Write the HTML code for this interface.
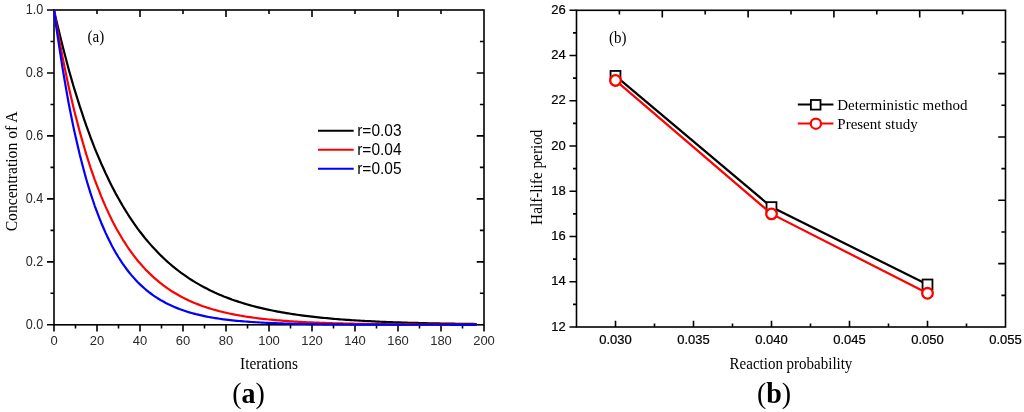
<!DOCTYPE html>
<html><head><meta charset="utf-8"><title>Figure</title>
<style>
html,body{margin:0;padding:0;background:#fff;width:1024px;height:412px;overflow:hidden}
svg{display:block;will-change:transform}
text{fill:#000}
.sans{font-family:"Liberation Sans",sans-serif}
.serif{font-family:"Liberation Serif",serif}
</style>
</head><body>
<svg width="1024" height="412" viewBox="0 0 1024 412">
<rect width="1024" height="412" fill="#fff"/>
<path d="M97 10V14.1M140 10V17.1M183 10V14.1M226 10V17.1M269 10V14.1M312 10V17.1M355 10V14.1M398 10V17.1M441 10V14.1M484 41.48H479.9M484 72.96H476.7M484 104.44H479.9M484 135.92H476.7M484 167.4H479.9M484 198.88H476.7M484 230.36H479.9M484 261.84H476.7M484 293.32H479.9M47 324.8H54M50.5 293.32H54M47 261.84H54M50.5 230.36H54M47 198.88H54M50.5 167.4H54M47 135.92H54M50.5 104.44H54M47 72.96H54M50.5 41.48H54M47 10H54M54 324.8V331.6M75.5 324.8V328.4M97 324.8V331.6M118.5 324.8V328.4M140 324.8V331.6M161.5 324.8V328.4M183 324.8V331.6M204.5 324.8V328.4M226 324.8V331.6M247.5 324.8V328.4M269 324.8V331.6M290.5 324.8V328.4M312 324.8V331.6M333.5 324.8V328.4M355 324.8V331.6M376.5 324.8V328.4M398 324.8V331.6M419.5 324.8V328.4M441 324.8V331.6M462.5 324.8V328.4M484 324.8V331.6" fill="none" stroke="#000" stroke-width="1.6"/>
<rect x="54" y="10" width="430" height="314.8" fill="none" stroke="#000" stroke-width="1.6"/>
<text class="sans" transform="translate(43.2,328.6) scale(0.97,1.060)" font-size="13" text-anchor="end" style="fill:#2a2a2a">0.0</text>
<text class="sans" transform="translate(43.2,265.64) scale(0.97,1.060)" font-size="13" text-anchor="end" style="fill:#2a2a2a">0.2</text>
<text class="sans" transform="translate(43.2,202.68) scale(0.97,1.060)" font-size="13" text-anchor="end" style="fill:#2a2a2a">0.4</text>
<text class="sans" transform="translate(43.2,139.72) scale(0.97,1.060)" font-size="13" text-anchor="end" style="fill:#2a2a2a">0.6</text>
<text class="sans" transform="translate(43.2,76.76) scale(0.97,1.060)" font-size="13" text-anchor="end" style="fill:#2a2a2a">0.8</text>
<text class="sans" transform="translate(43.2,13.8) scale(0.97,1.060)" font-size="13" text-anchor="end" style="fill:#2a2a2a">1.0</text>
<text class="sans" transform="translate(54,345.3) scale(1,1.040)" font-size="13" text-anchor="middle" style="fill:#2a2a2a">0</text>
<text class="sans" transform="translate(97,345.3) scale(1,1.040)" font-size="13" text-anchor="middle" style="fill:#2a2a2a">20</text>
<text class="sans" transform="translate(140,345.3) scale(1,1.040)" font-size="13" text-anchor="middle" style="fill:#2a2a2a">40</text>
<text class="sans" transform="translate(183,345.3) scale(1,1.040)" font-size="13" text-anchor="middle" style="fill:#2a2a2a">60</text>
<text class="sans" transform="translate(226,345.3) scale(1,1.040)" font-size="13" text-anchor="middle" style="fill:#2a2a2a">80</text>
<text class="sans" transform="translate(269,345.3) scale(1,1.040)" font-size="13" text-anchor="middle" style="fill:#2a2a2a">100</text>
<text class="sans" transform="translate(312,345.3) scale(1,1.040)" font-size="13" text-anchor="middle" style="fill:#2a2a2a">120</text>
<text class="sans" transform="translate(355,345.3) scale(1,1.040)" font-size="13" text-anchor="middle" style="fill:#2a2a2a">140</text>
<text class="sans" transform="translate(398,345.3) scale(1,1.040)" font-size="13" text-anchor="middle" style="fill:#2a2a2a">160</text>
<text class="sans" transform="translate(441,345.3) scale(1,1.040)" font-size="13" text-anchor="middle" style="fill:#2a2a2a">180</text>
<text class="sans" transform="translate(484,345.3) scale(1,1.040)" font-size="13" text-anchor="middle" style="fill:#2a2a2a">200</text>
<text class="serif" transform="translate(269,369.1) scale(1,1.060)" font-size="15.35" text-anchor="middle">Iterations</text>
<text class="serif" transform="translate(17,171.4) rotate(-90) scale(1,1.040)" font-size="15.65" text-anchor="middle">Concentration of A</text>
<text class="serif" transform="translate(87.5,41.9) scale(1,1.080)" font-size="15">(a)</text>
<polyline points="54,10 56.1,19.44 58.3,28.6 60.5,37.49 62.6,46.11 64.8,54.47 66.9,62.58 69,70.45 71.2,78.08 73.3,85.48 75.5,92.66 77.7,99.62 79.8,106.38 82,112.93 84.1,119.29 86.2,125.45 88.4,131.43 90.5,137.23 92.7,142.86 94.8,148.32 97,153.61 99.2,158.75 101.3,163.73 103.5,168.56 105.6,173.25 107.8,177.8 109.9,182.21 112,186.48 114.2,190.63 116.3,194.66 118.5,198.56 120.7,202.35 122.8,206.02 125,209.59 127.1,213.04 129.2,216.4 131.4,219.65 133.6,222.8 135.7,225.86 137.8,228.83 140,231.71 142.2,234.5 144.3,237.21 146.4,239.84 148.6,242.39 150.8,244.86 152.9,247.26 155.1,249.58 157.2,251.84 159.3,254.03 161.5,256.15 163.7,258.21 165.8,260.21 167.9,262.15 170.1,264.03 172.2,265.85 174.4,267.62 176.6,269.33 178.7,271 180.8,272.61 183,274.18 185.2,275.7 187.3,277.17 189.4,278.6 191.6,279.98 193.8,281.33 195.9,282.63 198.1,283.9 200.2,285.13 202.3,286.32 204.5,287.47 206.7,288.59 208.8,289.68 210.9,290.73 213.1,291.75 215.2,292.74 217.4,293.71 219.6,294.64 221.7,295.54 223.8,296.42 226,297.27 228.2,298.1 230.3,298.9 232.4,299.68 234.6,300.43 236.8,301.16 238.9,301.87 241.1,302.56 243.2,303.23 245.3,303.87 247.5,304.5 249.7,305.11 251.8,305.7 253.9,306.27 256.1,306.83 258.2,307.37 260.4,307.89 262.6,308.4 264.7,308.89 266.9,309.37 269,309.83 271.1,310.28 273.3,310.72 275.4,311.14 277.6,311.55 279.8,311.95 281.9,312.33 284.1,312.7 286.2,313.07 288.4,313.42 290.5,313.76 292.6,314.09 294.8,314.41 296.9,314.73 299.1,315.03 301.2,315.32 303.4,315.6 305.6,315.88 307.7,316.15 309.9,316.41 312,316.66 314.1,316.9 316.3,317.14 318.4,317.37 320.6,317.59 322.8,317.81 324.9,318.02 327.1,318.22 329.2,318.42 331.4,318.61 333.5,318.8 335.6,318.98 337.8,319.15 339.9,319.32 342.1,319.49 344.2,319.65 346.4,319.8 348.6,319.95 350.7,320.1 352.9,320.24 355,320.37 357.1,320.51 359.3,320.63 361.4,320.76 363.6,320.88 365.8,321 367.9,321.11 370.1,321.22 372.2,321.33 374.4,321.43 376.5,321.54 378.6,321.63 380.8,321.73 382.9,321.82 385.1,321.91 387.2,322 389.4,322.08 391.6,322.16 393.7,322.24 395.9,322.32 398,322.39 400.1,322.47 402.3,322.54 404.4,322.6 406.6,322.67 408.8,322.73 410.9,322.79 413.1,322.86 415.2,322.91 417.4,322.97 419.5,323.02 421.6,323.08 423.8,323.13 425.9,323.18 428.1,323.23 430.2,323.28 432.4,323.32 434.6,323.37 436.7,323.41 438.9,323.45 441,323.49 443.1,323.53 445.3,323.57 447.4,323.61 449.6,323.64 451.8,323.68 453.9,323.71 456.1,323.74 458.2,323.77 460.4,323.8 462.5,323.83 464.6,323.86 466.8,323.89 468.9,323.92 471.1,323.95 473.2,323.97 475.4,324 476.7,324.01" fill="none" stroke="#000" stroke-width="2.2" stroke-linejoin="round"/>
<polyline points="54,10 56.1,22.59 58.3,34.68 60.5,46.29 62.6,57.43 64.8,68.12 66.9,78.39 69,88.24 71.2,97.71 73.3,106.79 75.5,115.51 77.7,123.88 79.8,131.92 82,139.63 84.1,147.04 86.2,154.15 88.4,160.98 90.5,167.53 92.7,173.82 94.8,179.86 97,185.66 99.2,191.22 101.3,196.57 103.5,201.7 105.6,206.62 107.8,211.35 109.9,215.89 112,220.24 114.2,224.42 116.3,228.44 118.5,232.29 120.7,235.99 122.8,239.55 125,242.96 127.1,246.23 129.2,249.37 131.4,252.39 133.6,255.29 135.7,258.07 137.8,260.74 140,263.3 142.2,265.76 144.3,268.12 146.4,270.39 148.6,272.56 150.8,274.65 152.9,276.66 155.1,278.59 157.2,280.43 159.3,282.21 161.5,283.91 163.7,285.55 165.8,287.12 167.9,288.62 170.1,290.07 172.2,291.46 174.4,292.79 176.6,294.07 178.7,295.3 180.8,296.48 183,297.62 185.2,298.7 187.3,299.75 189.4,300.75 191.6,301.71 193.8,302.64 195.9,303.52 198.1,304.37 200.2,305.19 202.3,305.97 204.5,306.73 206.7,307.45 208.8,308.14 210.9,308.81 213.1,309.45 215.2,310.06 217.4,310.65 219.6,311.22 221.7,311.76 223.8,312.28 226,312.78 228.2,313.27 230.3,313.73 232.4,314.17 234.6,314.59 236.8,315 238.9,315.39 241.1,315.77 243.2,316.13 245.3,316.48 247.5,316.81 249.7,317.13 251.8,317.44 253.9,317.73 256.1,318.02 258.2,318.29 260.4,318.55 262.6,318.8 264.7,319.04 266.9,319.27 269,319.49 271.1,319.7 273.3,319.91 275.4,320.1 277.6,320.29 279.8,320.47 281.9,320.64 284.1,320.81 286.2,320.97 288.4,321.12 290.5,321.27 292.6,321.41 294.8,321.55 296.9,321.68 299.1,321.8 301.2,321.92 303.4,322.04 305.6,322.15 307.7,322.25 309.9,322.35 312,322.45 314.1,322.55 316.3,322.64 318.4,322.72 320.6,322.81 322.8,322.89 324.9,322.96 327.1,323.04 329.2,323.11 331.4,323.17 333.5,323.24 335.6,323.3 337.8,323.36 339.9,323.42 342.1,323.47 344.2,323.53 346.4,323.58 348.6,323.63 350.7,323.67 352.9,323.72 355,323.76 357.1,323.8 359.3,323.84 361.4,323.88 363.6,323.92 365.8,323.95 367.9,323.99 370.1,324.02 372.2,324.05 374.4,324.08 376.5,324.11 378.6,324.14 380.8,324.16 382.9,324.19 385.1,324.21 387.2,324.24 389.4,324.26 391.6,324.28 393.7,324.3 395.9,324.32 398,324.34 400.1,324.36 402.3,324.38 404.4,324.39 406.6,324.41 408.8,324.43 410.9,324.44 413.1,324.46 415.2,324.47 417.4,324.48 419.5,324.5 421.6,324.51 423.8,324.52 425.9,324.53 428.1,324.54 430.2,324.55 432.4,324.56 434.6,324.57 436.7,324.58 438.9,324.59 441,324.6 443.1,324.61 445.3,324.61 447.4,324.62 449.6,324.63 451.8,324.63 453.9,324.64 456.1,324.65 458.2,324.65 460.4,324.66 462.5,324.67 464.6,324.67 466.8,324.68 468.9,324.68 471.1,324.69 473.2,324.69 475.4,324.69 476.7,324.7" fill="none" stroke="#f00" stroke-width="2.2" stroke-linejoin="round"/>
<polyline points="54,10 56.1,25.74 58.3,40.69 60.5,54.9 62.6,68.39 64.8,81.21 66.9,93.39 69,104.96 71.2,115.96 73.3,126.4 75.5,136.32 77.7,145.74 79.8,154.69 82,163.2 84.1,171.28 86.2,178.96 88.4,186.25 90.5,193.18 92.7,199.76 94.8,206.01 97,211.95 99.2,217.59 101.3,222.95 103.5,228.04 105.6,232.88 107.8,237.48 109.9,241.84 112,245.99 114.2,249.93 116.3,253.68 118.5,257.23 120.7,260.61 122.8,263.82 125,266.87 127.1,269.77 129.2,272.52 131.4,275.13 133.6,277.61 135.7,279.97 137.8,282.22 140,284.34 142.2,286.37 144.3,288.29 146.4,290.11 148.6,291.85 150.8,293.5 152.9,295.06 155.1,296.55 157.2,297.96 159.3,299.3 161.5,300.58 163.7,301.79 165.8,302.94 167.9,304.03 170.1,305.07 172.2,306.06 174.4,306.99 176.6,307.88 178.7,308.73 180.8,309.53 183,310.3 185.2,311.02 187.3,311.71 189.4,312.37 191.6,312.99 193.8,313.58 195.9,314.14 198.1,314.67 200.2,315.18 202.3,315.66 204.5,316.12 206.7,316.55 208.8,316.96 210.9,317.36 213.1,317.73 215.2,318.08 217.4,318.42 219.6,318.74 221.7,319.04 223.8,319.33 226,319.6 228.2,319.86 230.3,320.11 232.4,320.34 234.6,320.57 236.8,320.78 238.9,320.98 241.1,321.17 243.2,321.35 245.3,321.52 247.5,321.69 249.7,321.84 251.8,321.99 253.9,322.13 256.1,322.26 258.2,322.39 260.4,322.51 262.6,322.63 264.7,322.73 266.9,322.84 269,322.94 271.1,323.03 273.3,323.12 275.4,323.2 277.6,323.28 279.8,323.36 281.9,323.43 284.1,323.5 286.2,323.56 288.4,323.63 290.5,323.68 292.6,323.74 294.8,323.79 296.9,323.84 299.1,323.89 301.2,323.94 303.4,323.98 305.6,324.02 307.7,324.06 309.9,324.1 312,324.13 314.1,324.17 316.3,324.2 318.4,324.23 320.6,324.26 322.8,324.28 324.9,324.31 327.1,324.33 329.2,324.36 331.4,324.38 333.5,324.4 335.6,324.42 337.8,324.44 339.9,324.46 342.1,324.47 344.2,324.49 346.4,324.51 348.6,324.52 350.7,324.53 352.9,324.55 355,324.56 357.1,324.57 359.3,324.58 361.4,324.59 363.6,324.6 365.8,324.61 367.9,324.62 370.1,324.63 372.2,324.64 374.4,324.65 376.5,324.66 378.6,324.66 380.8,324.67 382.9,324.68 385.1,324.68 387.2,324.69 389.4,324.69 391.6,324.7 393.7,324.7 395.9,324.71 398,324.71 400.1,324.72 402.3,324.72 404.4,324.73 406.6,324.73 408.8,324.73 410.9,324.74 413.1,324.74 415.2,324.74 417.4,324.75 419.5,324.75 421.6,324.75 423.8,324.75 425.9,324.76 428.1,324.76 430.2,324.76 432.4,324.76 434.6,324.76 436.7,324.77 438.9,324.77 441,324.77 443.1,324.77 445.3,324.77 447.4,324.77 449.6,324.77 451.8,324.78 453.9,324.78 456.1,324.78 458.2,324.78 460.4,324.78 462.5,324.78 464.6,324.78 466.8,324.78 468.9,324.78 471.1,324.78 473.2,324.79 475.4,324.79 476.7,324.79" fill="none" stroke="#00f" stroke-width="2.2" stroke-linejoin="round"/>
<line x1="318" y1="130.8" x2="353.7" y2="130.8" stroke="#000" stroke-width="2"/>
<text class="sans" transform="translate(357.2,136.1) scale(1,1.100)" font-size="15.5">r=0.03</text>
<line x1="318" y1="149.75" x2="353.7" y2="149.75" stroke="#f00" stroke-width="2"/>
<text class="sans" transform="translate(357.2,155.05) scale(1,1.100)" font-size="15.5">r=0.04</text>
<line x1="318" y1="168.7" x2="353.7" y2="168.7" stroke="#00f" stroke-width="2"/>
<text class="sans" transform="translate(357.2,174) scale(1,1.100)" font-size="15.5">r=0.05</text>
<path d="M619.4 10.3V14.4M662.3 10.3V17.4M705.2 10.3V14.4M748.1 10.3V17.4M791 10.3V14.4M833.9 10.3V17.4M876.8 10.3V14.4M919.7 10.3V17.4M962.6 10.3V14.4M1005.5 41.97H1001.4M1005.5 73.64H998.2M1005.5 105.31H1001.4M1005.5 136.98H998.2M1005.5 168.65H1001.4M1005.5 200.32H998.2M1005.5 231.99H1001.4M1005.5 263.66H998.2M1005.5 295.33H1001.4M569.5 327H576.5M573 304.38H576.5M569.5 281.76H576.5M573 259.14H576.5M569.5 236.51H576.5M573 213.89H576.5M569.5 191.27H576.5M573 168.65H576.5M569.5 146.03H576.5M573 123.41H576.5M569.5 100.79H576.5M573 78.16H576.5M569.5 55.54H576.5M573 32.92H576.5M569.5 10.3H576.5M615.5 327V320.8M654.5 327V323.4M693.5 327V320.8M732.5 327V323.4M771.5 327V320.8M810.5 327V323.4M849.5 327V320.8M888.5 327V323.4M927.5 327V320.8M966.5 327V323.4" fill="none" stroke="#000" stroke-width="1.6"/>
<rect x="576.5" y="10.3" width="429" height="316.7" fill="none" stroke="#000" stroke-width="1.6"/>
<text class="sans" transform="translate(565.8,330.7) scale(1,1.020)" font-size="13" text-anchor="end" stroke="#000" stroke-width="0.22">12</text>
<text class="sans" transform="translate(565.8,285.46) scale(1,1.020)" font-size="13" text-anchor="end" stroke="#000" stroke-width="0.22">14</text>
<text class="sans" transform="translate(565.8,240.21) scale(1,1.020)" font-size="13" text-anchor="end" stroke="#000" stroke-width="0.22">16</text>
<text class="sans" transform="translate(565.8,194.97) scale(1,1.020)" font-size="13" text-anchor="end" stroke="#000" stroke-width="0.22">18</text>
<text class="sans" transform="translate(565.8,149.73) scale(1,1.020)" font-size="13" text-anchor="end" stroke="#000" stroke-width="0.22">20</text>
<text class="sans" transform="translate(565.8,104.49) scale(1,1.020)" font-size="13" text-anchor="end" stroke="#000" stroke-width="0.22">22</text>
<text class="sans" transform="translate(565.8,59.24) scale(1,1.020)" font-size="13" text-anchor="end" stroke="#000" stroke-width="0.22">24</text>
<text class="sans" transform="translate(565.8,14) scale(1,1.020)" font-size="13" text-anchor="end" stroke="#000" stroke-width="0.22">26</text>
<text class="sans" transform="translate(615.5,344.3) scale(1,1.030)" font-size="13" text-anchor="middle" stroke="#000" stroke-width="0.22">0.030</text>
<text class="sans" transform="translate(693.5,344.3) scale(1,1.030)" font-size="13" text-anchor="middle" stroke="#000" stroke-width="0.22">0.035</text>
<text class="sans" transform="translate(771.5,344.3) scale(1,1.030)" font-size="13" text-anchor="middle" stroke="#000" stroke-width="0.22">0.040</text>
<text class="sans" transform="translate(849.5,344.3) scale(1,1.030)" font-size="13" text-anchor="middle" stroke="#000" stroke-width="0.22">0.045</text>
<text class="sans" transform="translate(927.5,344.3) scale(1,1.030)" font-size="13" text-anchor="middle" stroke="#000" stroke-width="0.22">0.050</text>
<text class="sans" transform="translate(1005.5,344.3) scale(1,1.030)" font-size="13" text-anchor="middle" stroke="#000" stroke-width="0.22">0.055</text>
<text class="serif" transform="translate(791,368.7) scale(1,1.070)" font-size="15" text-anchor="middle">Reaction probability</text>
<text class="serif" transform="translate(541.5,177.2) rotate(-90) scale(1,1.040)" font-size="15.28" text-anchor="middle">Half-life period</text>
<text class="serif" transform="translate(609,42.6) scale(1,1.060)" font-size="15">(b)</text>
<polyline points="615.5,75.9 771.5,207.11 927.5,284.47" fill="none" stroke="#000" stroke-width="2.2"/>
<rect x="610.55" y="70.95" width="9.9" height="9.9" fill="#fff" stroke="#000" stroke-width="1.8"/>
<rect x="766.55" y="202.16" width="9.9" height="9.9" fill="#fff" stroke="#000" stroke-width="1.8"/>
<rect x="922.55" y="279.52" width="9.9" height="9.9" fill="#fff" stroke="#000" stroke-width="1.8"/>
<polyline points="615.5,80.43 771.5,213.89 927.5,293.29" fill="none" stroke="#f00" stroke-width="2.2"/>
<circle cx="615.5" cy="80.43" r="5.3" fill="#fff" stroke="#f00" stroke-width="2.3"/>
<circle cx="771.5" cy="213.89" r="5.3" fill="#fff" stroke="#f00" stroke-width="2.3"/>
<circle cx="927.5" cy="293.29" r="5.3" fill="#fff" stroke="#f00" stroke-width="2.3"/>
<line x1="797.8" y1="104.5" x2="833.4" y2="104.5" stroke="#000" stroke-width="2"/>
<rect x="810.9" y="100" width="9.6" height="9.6" fill="#fff" stroke="#000" stroke-width="1.8"/>
<line x1="797.8" y1="123.6" x2="833.4" y2="123.6" stroke="#f00" stroke-width="2"/>
<circle cx="815.9" cy="123.7" r="5.1" fill="#fff" stroke="#f00" stroke-width="2.2"/>
<text class="serif" transform="translate(837.3,109.8) scale(1,1.010)" font-size="15">Deterministic method</text>
<text class="serif" transform="translate(837.3,128.7) scale(1,1.010)" font-size="15">Present study</text>
<text class="serif" transform="translate(248.5,402.8) scale(1,1.040)" font-size="28" text-anchor="middle">(<tspan font-weight="bold">a</tspan>)</text>
<text class="serif" transform="translate(774,402.8) scale(1,1.040)" font-size="28" text-anchor="middle">(<tspan font-weight="bold">b</tspan>)</text>
</svg>
</body></html>
